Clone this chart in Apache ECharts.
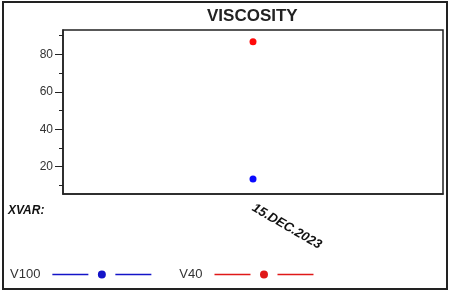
<!DOCTYPE html>
<html>
<head>
<meta charset="utf-8">
<script src="https://cdn.jsdelivr.net/npm/echarts@6/dist/echarts.min.js"></script>
<style>
  html, body { margin: 0; padding: 0; background: #fff; }
  #chart { width: 449px; height: 291px; }
</style>
</head>
<body>
<div id="chart"></div>
<script>
// Data
const categories = ['15.DEC.2023'];
const v100 = [13.4];
const v40 = [86.7];
const yMajorTicks = [20, 40, 60, 80];
const yMinorTicks = [10, 30, 50, 70, 90];
const yMin = 5.4;
const yMax = 93;

// line - gap - dot - gap - line, as a legend icon
const legendIcon = 'path://M0,2.75H36V4.25H0Z M63,2.75H99V4.25H63Z M45.5,3.5A4,4,0,1,0,53.5,3.5A4,4,0,1,0,45.5,3.5Z';

const chart = echarts.init(document.getElementById('chart'));

const baseFont = 'Liberation Sans, Arial, sans-serif';

const option = {
    animation: false,
    backgroundColor: '#fff',
    title: {
        text: 'VISCOSITY',
        left: 202,
        top: 3,
        textStyle: { fontFamily: baseFont, fontSize: 17, fontWeight: 'bold', color: '#222' }
    },
    legend: {
        left: 10,
        top: 268,
        padding: 0,
        align: 'right',
        itemWidth: 99,
        itemHeight: 8,
        itemGap: 28,
        icon: legendIcon,
        itemStyle: { borderWidth: 0 },
        textStyle: { fontFamily: baseFont, fontSize: 13, color: '#333', padding: [0, 7, 0, 0] },
        data: [
            { name: 'V100', itemStyle: { color: '#1414c8' } },
            { name: 'V40', itemStyle: { color: '#e01818' } }
        ]
    },
    grid: {
        left: 63,
        top: 30,
        right: 6,
        bottom: 97,
        show: true,
        borderColor: '#222',
        borderWidth: 1.5
    },
    xAxis: {
        type: 'category',
        data: categories,
        boundaryGap: true,
        axisLine: { lineStyle: { color: '#222', width: 1.5 } },
        axisTick: { alignWithLabel: true, length: 5, lineStyle: { color: '#222' } },
        axisLabel: {
            rotate: -30,
            margin: 13,
            fontFamily: baseFont,
            fontSize: 13,
            fontWeight: 'bold',
            fontStyle: 'italic',
            color: '#111'
        },
        splitLine: { show: false }
    },
    yAxis: [
        {
            type: 'value',
            min: yMin,
            max: yMax,
            axisLine: { show: true, lineStyle: { color: '#222', width: 1.5 } },
            axisTick: { show: true, length: 8, customValues: yMajorTicks, lineStyle: { color: '#222' } },
            axisLabel: {
                customValues: yMajorTicks,
                margin: 10,
                fontFamily: baseFont,
                fontSize: 12,
                color: '#333'
            },
            splitLine: { show: false }
        },
        {
            type: 'value',
            position: 'left',
            min: yMin,
            max: yMax,
            axisLine: { show: false },
            axisTick: { show: true, length: 4, customValues: yMinorTicks, lineStyle: { color: '#222' } },
            axisLabel: { show: false },
            splitLine: { show: false }
        }
    ],
    graphic: [
        {
            type: 'rect',
            shape: { x: 3, y: 2, width: 444, height: 287 },
            style: { fill: null, stroke: '#222', lineWidth: 2 },
            silent: true
        },
        {
            type: 'text',
            left: 8,
            top: 205,
            style: {
                text: 'XVAR:',
                font: 'italic bold 12px ' + baseFont,
                fill: '#111'
            }
        }
    ],
    series: [
        {
            name: 'V100',
            type: 'line',
            data: v100,
            symbol: 'circle',
            symbolSize: 7,
            itemStyle: { color: '#0a0aff' },
            lineStyle: { color: '#2b2bb0', width: 1 }
        },
        {
            name: 'V40',
            type: 'line',
            data: v40,
            symbol: 'circle',
            symbolSize: 7,
            itemStyle: { color: '#ff0a0a' },
            lineStyle: { color: '#d42a2a', width: 1 }
        }
    ]
};

chart.setOption(option);

window.addEventListener('resize', function() {
    chart.resize();
});
</script>
</body>
</html>
